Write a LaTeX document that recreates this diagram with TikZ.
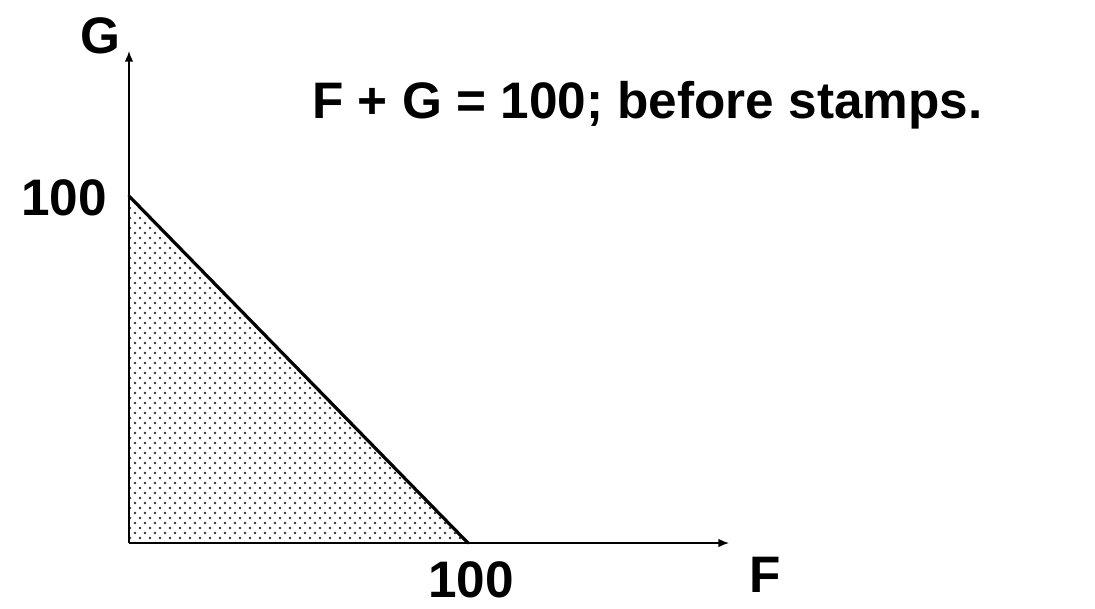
\documentclass[tikz,border=0pt]{standalone}
\usepackage{fontspec}
\setmainfont{Liberation Sans}
\usetikzlibrary{arrows.meta,patterns}
\pgfdeclarepatternformonly{mydots}{\pgfpoint{-1.5pt}{-1.5pt}}{\pgfpoint{9pt}{9pt}}{\pgfpoint{7.5pt}{7.5pt}}{%
  \pgfpathcircle{\pgfpoint{0pt}{0pt}}{1.05pt}%
  \pgfpathcircle{\pgfpoint{3.75pt}{3.75pt}}{1.05pt}%
  \pgfusepath{fill}}
\tikzset{
  lbl/.style={inner sep=0pt, anchor=base, font=\fontsize{38.5}{45}\selectfont\bfseries},
  axis/.style={line width=1.2pt, -{Latex[length=8pt,width=6.5pt]}},
  budget/.style={line width=2.4pt, line cap=round},
  region/.style={pattern=mydots, pattern color=black!80}
}
\begin{document}
\begin{tikzpicture}[x=0.75pt,y=-0.75pt]
\useasboundingbox (0,0) rectangle (1095,608);
\fill[white] (0,0) rectangle (1095,608);
\coordinate (O) at (129,543);
\coordinate (Ytip) at (129,51);
\coordinate (Xtip) at (729,543);
\coordinate (A) at (129,196);
\coordinate (B) at (468,543);
\fill[region] (O) -- (A) -- (B) -- cycle;
\draw[axis] (O) -- (Ytip);
\draw[axis] (O) -- (Xtip);
\draw[budget] (A) -- (B);
\node[lbl] (G) at (100,53) {G};
\node[lbl] (F) at (765,592) {F};
\node[lbl] (ya) at (64,215) {100};
\node[lbl] (xa) at (471,597) {100};
\node[lbl, anchor=base west] (title) at (312,118) {F + G = 100; before stamps.};
\end{tikzpicture}
\end{document}
